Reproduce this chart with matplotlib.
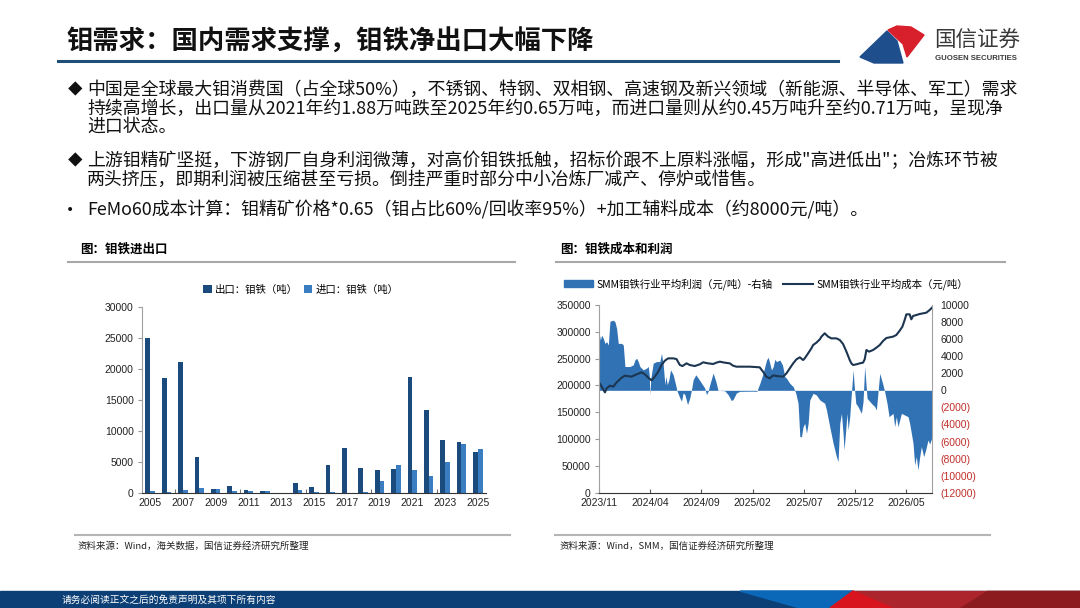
import matplotlib
matplotlib.use('Agg')
import numpy as np
import matplotlib.pyplot as plt
from matplotlib.patches import Polygon, Rectangle
from matplotlib.lines import Line2D

plt.rcParams['font.family'] = ['Noto Sans CJK SC', 'DejaVu Sans']

W, H = 1080, 608

# ---- left chart: FeMo import / export (tons)
years = list(range(2005, 2026))
export_t = [25100, 18600, 21100, 5800, 600, 1100, 450, 200, 30, 1550, 850,
            4550, 7200, 3950, 3600, 3850, 18800, 13450, 8500, 8150, 6600]
import_t = [300, 150, 420, 700, 520, 320, 300, 250, 20, 450, 150,
            50, 30, 150, 1950, 4550, 3600, 2750, 4950, 7950, 7050]

# ---- right chart: SMM cost & profit, x = months since 2023/11
profit_m = [0.00, 0.13, 0.26, 0.42, 0.58, 0.75, 0.91, 1.07, 1.40, 1.56, 1.72, 1.88,
            2.21, 2.37, 2.53, 3.02, 3.34, 3.51, 3.67, 3.83, 3.99, 4.32, 4.64, 4.81,
            4.90, 4.97, 5.06, 5.29, 5.62, 5.94, 6.10, 6.27, 6.43, 6.53, 6.66, 6.82,
            6.98, 7.24, 7.40, 7.63, 7.89, 8.05, 8.21, 8.38, 8.64, 8.86, 9.03, 9.19,
            9.45, 9.68, 10.00, 10.32, 10.49, 10.65, 10.81, 11.14, 11.40, 11.62, 12.27,
            12.60, 12.92, 13.08, 13.41, 13.73, 15.05, 15.40, 15.70, 16.02, 16.35,
            16.51, 16.67, 16.83, 17.00, 17.16, 17.32, 17.65, 17.91, 18.13, 18.30,
            18.62, 18.95, 19.21, 19.43, 19.60, 19.76, 19.92, 20.08, 20.25, 20.41,
            20.57, 20.90, 21.22, 21.55, 22.03, 22.20, 22.52, 22.85, 23.17, 23.33,
            23.50, 23.66, 23.82, 23.92, 24.08, 24.21, 24.31, 24.47, 24.63, 24.80,
            24.89, 25.06, 25.28, 25.61, 25.77, 25.93, 26.03, 26.16, 26.58, 26.91,
            27.07, 27.40, 27.72, 27.88, 28.11, 28.31, 28.70, 28.86, 29.02, 29.18,
            29.51, 29.83, 30.16, 30.32, 30.65, 30.81, 30.97, 31.13, 31.30, 31.46,
            31.69, 31.88, 32.11, 32.27, 32.50]
profit_v = [6860, 5890, 6470, 6090, 5500, 5700, 5310, 8100, 8220, 8020, 7250, 5500,
            5500, 5310, 2790, 2790, 2980, 3570, 3760, 3370, 2790, 2400, 2600, 2790,
            1820, -500, 1430, 3180, 3370, 3370, 4340, 2980, 660, 1630, 660, 1240,
            2400, 1820, 1050, -120, -890, -1280, -310, -500, -1670, -890, 80, 1240,
            1820, 1430, 850, 270, -500, -120, 660, 2020, 1050, 0, -50,
            -500, -1200, -1090, -310, -120, -100, -120, 820, 2000, 3550,
            3870, 3160, 2380, 2770, 3630, 3360, 3550, 2970, 1600, 1410,
            820, 430, -350, -1520, -5430, -5430, -4260, -3870, -5040, -3870,
            -1130, -350, -550, -1130, -1520, -2300, -4260, -6210, -7770, -8360,
            -3870, -2700, -5040, -6990, -4650, -2700, -4650, -3090, -350, 2380,
            820, -1520, -1910, -2700, -1330, 2770, 1210, -940, -1520, -1910,
            -2300, 1990, 620, -160, -1520, -3090, -2700, -4260, -3090, -4260,
            -2700, -2890, -3090, -3870, -6210, -8750, -7770, -9340, -7770, -6600,
            -7770, -6990, -5820, -6300, -5500]

cost_m = [0.00, 0.26, 0.58, 0.75, 1.07, 1.40, 1.72, 2.21, 2.53, 3.18, 3.51, 4.16,
          4.48, 4.81, 5.13, 5.45, 5.78, 6.10, 6.43, 6.75, 7.24, 7.56, 7.89, 8.15,
          8.54, 8.86, 9.35, 9.84, 10.16, 10.65, 11.14, 11.46, 11.79, 12.27, 12.76,
          13.08, 13.41, 14.71, 15.68, 16.01, 16.33, 16.66, 17.00, 17.32, 17.97,
          18.30, 18.62, 18.95, 19.27, 19.60, 19.92, 20.08, 20.41, 20.73, 20.90,
          21.22, 21.55, 21.71, 22.03, 22.36, 22.68, 23.17, 23.50, 23.82, 24.15,
          24.47, 24.63, 24.80, 25.12, 25.45, 25.77, 25.93, 26.10, 26.36, 26.75,
          27.07, 27.40, 27.72, 28.05, 28.70, 29.02, 29.35, 29.61, 29.83, 30.00,
          30.32, 30.48, 30.65, 31.30, 31.95, 32.27, 32.50]
cost_v = [205800, 197700, 187100, 194600, 199600, 197700, 205800, 214500, 218200,
          216400, 219500, 224400, 220700, 214500, 209500, 216400, 225700, 238100,
          246200, 250500, 250500, 249300, 238100, 236200, 241200, 238100, 236200,
          239400, 243100, 241200, 240000, 242500, 244300, 242500, 241200, 236900,
          235000, 235000, 233800, 225700, 216400, 213300, 218800, 217600, 216400,
          222600, 231900, 241200, 248700, 252400, 247400, 250500, 259900, 269200,
          275400, 279800, 286000, 291000, 297200, 291000, 287800, 287800, 284700,
          277300, 263000, 247400, 241200, 238100, 239400, 241200, 242500, 248700,
          266100, 263000, 266100, 270400, 275400, 282900, 288500, 291000, 294100,
          302200, 309600, 322000, 332600, 332600, 323300, 329500, 333200, 335700,
          340700, 345000]
month_ticks = [0, 5, 10, 15, 20, 25, 30]
month_labels = ['2023/11', '2024/04', '2024/09', '2025/02', '2025/07', '2025/12', '2026/05']

C_EXP = '#1B4B7C'
C_IMP = '#3A7EC1'
C_FILL = '#3172B4'
C_LINE = '#1C3550'
NUM_FONT = 'Liberation Sans'


def fx(x):
    return x / W


def fy(y):
    return 1 - y / H


fig = plt.figure(figsize=(W / 100, H / 100), dpi=100)
fig.patch.set_facecolor('white')

# ---- header
fig.text(fx(66), fy(42), '钼需求：国内需求支撑，钼铁净出口大幅下降', fontsize=19,
         fontweight='bold', color='#111111', va='center', ha='left')
fig.add_artist(Line2D([fx(58), fx(838)], [fy(61), fy(61)], color='#1F4E79', lw=2.2,
                      transform=fig.transFigure))
# logo
fig.add_artist(Polygon([(fx(860), fy(57)), (fx(887), fy(31)), (fx(897), fy(41)),
                        (fx(903), fy(63)), (fx(874), fy(63))], closed=True,
                       color='#1E4E8C', transform=fig.transFigure))
fig.add_artist(Polygon([(fx(888), fy(30)), (fx(897), fy(26)), (fx(911), fy(27)),
                        (fx(924), fy(35)), (fx(907), fy(57)), (fx(903), fy(44))],
                       closed=True, color='#D7202B', transform=fig.transFigure))
fig.text(fx(934), fy(40), '国信证券', fontsize=15.5, color='#3A3A3A', va='center', ha='left')
fig.text(fx(935), fy(58), 'GUOSEN SECURITIES', fontsize=5.6, fontweight='bold',
         color='#3A3A3A', va='center', ha='left', family=['Liberation Sans'])

# ---- bullets
fs = 12.9
tx = 87
lines = [
    (90, '中国是全球最大钼消费国（占全球50%），不锈钢、特钢、双相钢、高速钢及新兴领域（新能源、半导体、军工）需求'),
    (108.5, '持续高增长，出口量从2021年约1.88万吨跌至2025年约0.65万吨，而进口量则从约0.45万吨升至约0.71万吨，呈现净'),
    (127, '进口状态。'),
    (161, '上游钼精矿坚挺，下游钢厂自身利润微薄，对高价钼铁抵触，招标价跟不上原料涨幅，形成"高进低出"；冶炼环节被'),
    (180, '两头挤压，即期利润被压缩甚至亏损。倒挂严重时部分中小冶炼厂减产、停炉或惜售。'),
    (210, 'FeMo60成本计算：钼精矿价格*0.65（钼占比60%/回收率95%）+加工辅料成本（约8000元/吨）。'),
]
for yy, s in lines:
    fig.text(fx(tx), fy(yy), s, fontsize=fs, va='center', ha='left', color='#111111')
for yy in (90, 161):
    fig.text(fx(75), fy(yy), '◆', fontsize=10.5, va='center', ha='center', color='#111111')
fig.text(fx(70), fy(210), '•', fontsize=10, va='center', ha='center', color='#111111',
         family=['DejaVu Sans'])

# ---- chart headers and source lines
fig.text(fx(80), fy(249), '图：钼铁进出口', fontsize=9, fontweight='bold', va='center', ha='left')
fig.text(fx(560), fy(249), '图：钼铁成本和利润', fontsize=9, fontweight='bold', va='center', ha='left')
for x0, x1 in [(68, 515), (556, 1005)]:
    fig.add_artist(Line2D([fx(x0), fx(x1)], [fy(262), fy(262)], color='#A8A8A8', lw=1.5,
                          transform=fig.transFigure))
for x0, x1 in [(75, 510), (555, 990)]:
    fig.add_artist(Line2D([fx(x0), fx(x1)], [fy(535), fy(535)], color='#B5B5B5', lw=1.5,
                          transform=fig.transFigure))
fig.text(fx(78), fy(546), '资料来源：Wind，海关数据，国信证券经济研究所整理', fontsize=6.8,
         va='center', ha='left', color='#222222')
fig.text(fx(560), fy(546), '资料来源：Wind，SMM，国信证券经济研究所整理', fontsize=6.8,
         va='center', ha='left', color='#222222')

# ---- footer band
fig.add_artist(Rectangle((0, 0), 1, fy(591), color='#0C3F75', transform=fig.transFigure))
fig.add_artist(Polygon([(fx(740), fy(591)), (fx(853), fy(591)), (fx(830), fy(608)),
                        (fx(800), fy(608))], closed=True, color='#0B68B9',
                       transform=fig.transFigure))
fig.add_artist(Polygon([(fx(853), fy(591)), (fx(1080), fy(591)), (fx(1080), fy(608)),
                        (fx(830), fy(608))], closed=True, color='#AD252C',
                       transform=fig.transFigure))
fig.add_artist(Polygon([(fx(830), fy(608)), (fx(853), fy(591)), (fx(892), fy(608))],
                       closed=True, color='#D8141E', transform=fig.transFigure))
fig.add_artist(Polygon([(fx(987), fy(591)), (fx(1080), fy(591)), (fx(1080), fy(608)),
                        (fx(960), fy(608))], closed=True, color='#8C1B1F',
                       transform=fig.transFigure))
fig.text(fx(62), fy(600), '请务必阅读正文之后的免责声明及其项下所有内容', fontsize=7,
         color='white', va='center', ha='left')

# ---- left chart
ax1 = fig.add_axes([fx(142), fy(492.7), (486 - 142) / W, (492.7 - 307.3) / H])
x = np.arange(len(years))
bw = 0.29
b1 = ax1.bar(x - bw / 2, export_t, bw, color=C_EXP, label='出口：钼铁（吨）')
b2 = ax1.bar(x + bw / 2, import_t, bw, color=C_IMP, label='进口：钼铁（吨）')
ax1.set_xlim(-0.5, len(years) - 0.5)
ax1.set_ylim(0, 30000)
ax1.set_yticks(range(0, 30001, 5000))
ax1.set_xticks(x[::2])
ax1.set_xticklabels([str(y) for y in years[::2]])
ax1.set_xticks([1.5, 5.5, 9.5, 13.5, 17.5], minor=True)
ax1.tick_params(axis='x', which='major', length=0, pad=4)
ax1.tick_params(axis='x', which='minor', length=3, direction='in', color='#555555')
ax1.tick_params(axis='y', length=3, color='#999999', pad=3)
ax1.tick_params(labelsize=7.5, labelfontfamily=NUM_FONT, labelcolor='#222222')
for s in ['top', 'right']:
    ax1.spines[s].set_visible(False)
ax1.spines['left'].set_color('#A0A0A0')
ax1.spines['bottom'].set_color('#333333')
ax1.legend(loc='center', bbox_to_anchor=(fx(301), fy(290)), bbox_transform=fig.transFigure,
           ncol=2, frameon=False, fontsize=7.5, handlelength=0.8, handleheight=0.8,
           columnspacing=0.6, handletextpad=0.3)

# ---- right chart
ax2 = fig.add_axes([fx(599), fy(492.7), (932 - 599) / W, (492.7 - 305) / H])
axr = ax2.twinx()
ax2.set_zorder(2)
axr.set_zorder(1)
ax2.patch.set_visible(False)

axr.fill_between(profit_m, profit_v, 0, color=C_FILL, linewidth=0)
ln, = ax2.plot(cost_m, cost_v, color=C_LINE, lw=1.5)

ax2.set_xlim(0, 32.5)
ax2.set_ylim(0, 350000)
ax2.set_yticks(range(0, 350001, 50000))
axr.set_ylim(-12000, 10000)
rt = list(range(-12000, 10001, 2000))
axr.set_yticks(rt)
axr.set_yticklabels([str(v) if v >= 0 else '(%d)' % (-v) for v in rt])
for lab, v in zip(axr.get_yticklabels(), rt):
    lab.set_color('#C0302B' if v < 0 else '#222222')
ax2.set_xticks(month_ticks)
ax2.set_xticklabels(month_labels)
ax2.tick_params(axis='x', length=3, direction='in', color='#555555', pad=4)
ax2.tick_params(axis='y', length=3, color='#999999', pad=3)
axr.tick_params(axis='y', length=0, pad=6)
ax2.tick_params(labelsize=7.5, labelfontfamily=NUM_FONT, labelcolor='#222222')
axr.tick_params(labelsize=7.5, labelfontfamily=NUM_FONT)
for a in (ax2, axr):
    a.spines['top'].set_visible(False)
ax2.spines['right'].set_visible(False)
axr.spines['left'].set_visible(False)
axr.spines['bottom'].set_visible(False)
axr.spines['right'].set_color('#A0A0A0')
ax2.spines['left'].set_color('#A0A0A0')
ax2.spines['bottom'].set_color('#333333')

fill_handle = Rectangle((0, 0), 1, 1, color=C_FILL)
ax2.legend([fill_handle, ln], ['SMM钼铁行业平均利润（元/吨）-右轴', 'SMM钼铁行业平均成本（元/吨）'],
           loc='center', bbox_to_anchor=(fx(766), fy(284)), bbox_transform=fig.transFigure,
           ncol=2, frameon=False, fontsize=7.5, handlelength=2.8, handleheight=0.7,
           columnspacing=1.0, handletextpad=0.4)

fig.savefig('out.png', dpi=100)
